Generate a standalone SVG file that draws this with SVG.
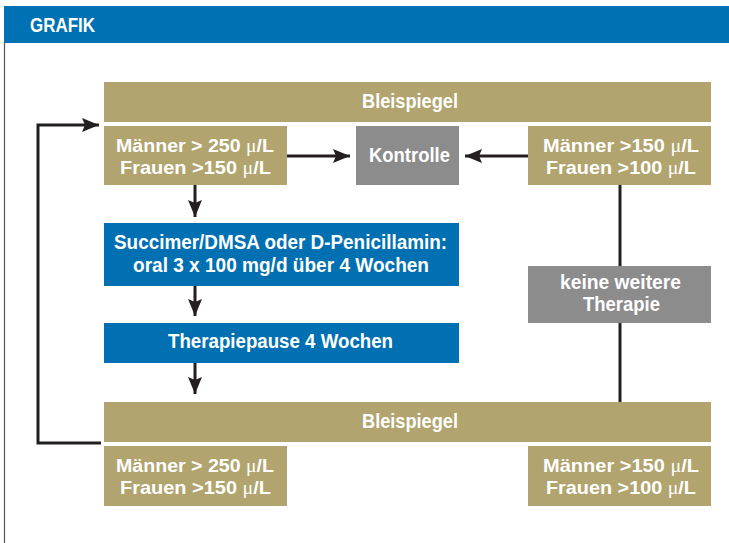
<svg xmlns="http://www.w3.org/2000/svg" width="729" height="543" viewBox="0 0 729 543">
<style>
.t{font-family:"Liberation Sans Narrow","Liberation Sans",Arial,sans-serif;font-weight:bold;font-size:20px;fill:#fff;}
.s{font-size:18.5px;}
.mu{font-family:"Liberation Serif","DejaVu Serif",serif;font-weight:normal;}
.kh{fill:#b1a46e;}
.gr{fill:#8c8c8d;}
.bl{fill:#0070b2;}
.ln{stroke:#231f20;stroke-width:3;fill:none;}
</style>
<defs>
<marker id="ah" markerUnits="userSpaceOnUse" markerWidth="20" markerHeight="16" refX="17" refY="7" orient="auto">
<path d="M0,0 L17,7 L0,14 L3,7 Z" fill="#231f20"/>
</marker>
</defs>
<rect width="729" height="543" fill="#fff"/>
<g id="header">
<rect x="4" y="6" width="725" height="37" fill="#0071b3"/>
<line x1="4.5" y1="43" x2="4.5" y2="543" stroke="#555" stroke-width="1.2"/>
<text class="t" x="30" y="32" font-size="21" textLength="65" lengthAdjust="spacingAndGlyphs">GRAFIK</text>
</g>
<g id="connectors">
<line class="ln" x1="287" y1="156" x2="350" y2="156" marker-end="url(#ah)"/>
<line class="ln" x1="528" y1="156" x2="465" y2="156" marker-end="url(#ah)"/>
<line class="ln" x1="195" y1="185" x2="195" y2="217" marker-end="url(#ah)"/>
<line class="ln" x1="195" y1="286" x2="195" y2="316" marker-end="url(#ah)"/>
<line class="ln" x1="195" y1="363" x2="195" y2="394" marker-end="url(#ah)"/>
<line class="ln" x1="620" y1="185" x2="620" y2="402"/>
<polyline class="ln" points="101,443 38,443 38,125 99,125" marker-end="url(#ah)"/>
</g>
<g id="blei1">
<rect class="kh" x="104" y="82" width="607" height="40"/>
<text class="t" x="410" y="107.5" text-anchor="middle" textLength="96" lengthAdjust="spacingAndGlyphs">Bleispiegel</text>
</g>
<g id="left1">
<rect class="kh" x="104" y="126" width="183" height="59"/>
<text class="t s" x="116" y="152" textLength="158" lengthAdjust="spacingAndGlyphs">Männer &gt; 250 <tspan class="mu">μ</tspan>/L</text>
<text class="t s" x="120" y="174" textLength="151" lengthAdjust="spacingAndGlyphs">Frauen &gt;150 <tspan class="mu">μ</tspan>/L</text>
</g>
<g id="kontrolle">
<rect class="gr" x="356" y="126" width="103" height="59"/>
<text class="t" x="409.5" y="162" text-anchor="middle" textLength="81" lengthAdjust="spacingAndGlyphs">Kontrolle</text>
</g>
<g id="right1">
<rect class="kh" x="528" y="126" width="183" height="59"/>
<text class="t s" x="543" y="152" textLength="156" lengthAdjust="spacingAndGlyphs">Männer &gt;150 <tspan class="mu">μ</tspan>/L</text>
<text class="t s" x="546" y="174" textLength="150" lengthAdjust="spacingAndGlyphs">Frauen &gt;100 <tspan class="mu">μ</tspan>/L</text>
</g>
<g id="dmsa">
<rect class="bl" x="104" y="223" width="355" height="63"/>
<text class="t" x="114" y="249" textLength="333" lengthAdjust="spacingAndGlyphs">Succimer/DMSA oder D-Penicillamin:</text>
<text class="t" x="133" y="271.5" textLength="296" lengthAdjust="spacingAndGlyphs">oral 3 x 100 mg/d über 4 Wochen</text>
</g>
<g id="pause">
<rect class="bl" x="104" y="323" width="355" height="40"/>
<text class="t" x="168" y="348" textLength="225" lengthAdjust="spacingAndGlyphs">Therapiepause 4 Wochen</text>
</g>
<g id="keine">
<rect class="gr" x="528" y="266" width="183" height="57"/>
<text class="t" x="620.5" y="289" text-anchor="middle" textLength="121" lengthAdjust="spacingAndGlyphs">keine weitere</text>
<text class="t" x="621.5" y="310.5" text-anchor="middle" textLength="77" lengthAdjust="spacingAndGlyphs">Therapie</text>
</g>
<g id="blei2">
<rect class="kh" x="104" y="402" width="607" height="40"/>
<text class="t" x="410" y="427.5" text-anchor="middle" textLength="96" lengthAdjust="spacingAndGlyphs">Bleispiegel</text>
</g>
<g id="left2">
<rect class="kh" x="104" y="446" width="183" height="60"/>
<text class="t s" x="116" y="472" textLength="158" lengthAdjust="spacingAndGlyphs">Männer &gt; 250 <tspan class="mu">μ</tspan>/L</text>
<text class="t s" x="120" y="494" textLength="151" lengthAdjust="spacingAndGlyphs">Frauen &gt;150 <tspan class="mu">μ</tspan>/L</text>
</g>
<g id="right2">
<rect class="kh" x="528" y="446" width="183" height="60"/>
<text class="t s" x="543" y="472" textLength="156" lengthAdjust="spacingAndGlyphs">Männer &gt;150 <tspan class="mu">μ</tspan>/L</text>
<text class="t s" x="546" y="494" textLength="150" lengthAdjust="spacingAndGlyphs">Frauen &gt;100 <tspan class="mu">μ</tspan>/L</text>
</g>
</svg>
